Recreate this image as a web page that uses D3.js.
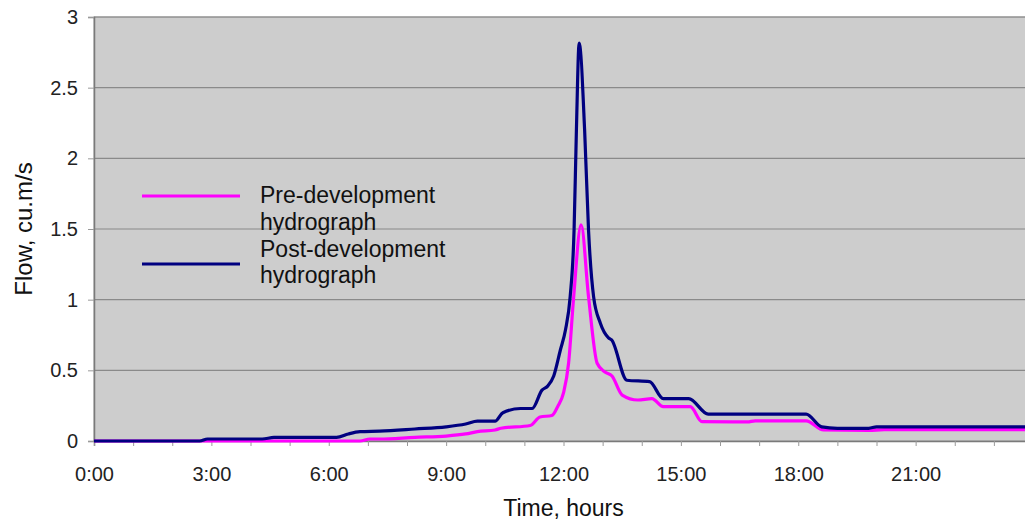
<!DOCTYPE html>
<html>
<head>
<meta charset="utf-8">
<script src="https://cdn.jsdelivr.net/npm/d3@7"></script>
<style>
  html, body { margin: 0; padding: 0; background: #fff; overflow: hidden; }
  svg { display: block; font-family: "Liberation Sans", Arial, sans-serif; }
</style>
</head>
<body>
<svg id="chart" width="1025" height="524"></svg>
<script>
// Pre-development hydrograph (hours, cu.m/s)
const preHours = [0, 6.8, 7.05, 7.3, 8.2, 9.0, 9.5, 9.8, 10.25, 10.4, 11.15, 11.4, 11.7, 11.85,
  12.0, 12.13, 12.26, 12.45, 12.64, 12.86, 13.05, 13.24, 13.5, 13.9, 14.26, 14.55, 15.24,
  15.54, 16.7, 16.9, 18.2, 18.65, 19.8, 20.2, 24];
const preFlow = [0, 0, 0.014, 0.014, 0.026, 0.035, 0.05, 0.066, 0.078, 0.09, 0.11, 0.17, 0.18, 0.243,
  0.34, 0.55, 1.02, 1.53, 1.02, 0.55, 0.49, 0.46, 0.325, 0.29, 0.3, 0.243, 0.243,
  0.137, 0.135, 0.143, 0.143, 0.078, 0.075, 0.08, 0.08];

// Post-development hydrograph
const postHours = [0, 2.7, 2.9, 4.3, 4.6, 6.2, 6.5, 6.8, 7.3, 8.2, 9.0, 9.5, 9.8, 10.25, 10.45,
  10.9, 11.2, 11.45, 11.6, 11.75, 11.92, 12.05, 12.17, 12.27, 12.33, 12.4, 12.54, 12.64,
  12.77, 12.94, 13.15, 13.23, 13.62, 14.2, 14.55, 15.2, 15.7, 18.2, 18.6, 19.0, 19.8, 20.0, 24];
const postFlow = [0, 0, 0.014, 0.014, 0.025, 0.025, 0.05, 0.066, 0.07, 0.085, 0.1, 0.12, 0.14, 0.14, 0.2,
  0.23, 0.23, 0.36, 0.39, 0.46, 0.644, 0.785, 1.02, 1.49, 2.2, 2.815, 2.2, 1.49,
  1.02, 0.835, 0.73, 0.715, 0.43, 0.42, 0.3, 0.3, 0.19, 0.19, 0.1, 0.09, 0.09, 0.1, 0.1];

const yTicks = [0, 0.5, 1, 1.5, 2, 2.5, 3];
const xTickHours = d3.range(0, 24);
const xTickLabels = ["0:00", "3:00", "6:00", "9:00", "12:00", "15:00", "18:00", "21:00"];

const seriesNames = ["Pre-development hydrograph", "Post-development hydrograph"];
const seriesColors = ["#ff00ff", "#000080"];

const svg = d3.select("#chart");
const plotLeft = 94, plotTop = 17, plotRight = 1033, plotBottom = 441;

const x = d3.scaleLinear().domain([0, 24]).range([plotLeft, plotRight]);
const y = d3.scaleLinear().domain([0, 3]).range([plotBottom, plotTop]);

// plot area
svg.append("rect")
  .attr("x", plotLeft).attr("y", plotTop)
  .attr("width", plotRight - plotLeft).attr("height", plotBottom - plotTop)
  .attr("fill", "#cdcdcd")
  .attr("stroke", "#9a9a9a");

// gridlines
svg.append("g")
  .selectAll("line")
  .data(yTicks.slice(1))
  .join("line")
  .attr("x1", plotLeft).attr("x2", plotRight)
  .attr("y1", d => y(d)).attr("y2", d => y(d))
  .attr("stroke", "#8a8a8a")
  .attr("stroke-width", 1.2);

// y axis
const yAxis = svg.append("g")
  .attr("transform", `translate(${plotLeft},0)`)
  .call(d3.axisLeft(y).tickValues(yTicks).tickSize(6).tickPadding(10)
    .tickFormat(d => String(d)));
yAxis.select(".domain").attr("stroke", "#7a7a7a").attr("stroke-width", 1.5);
yAxis.selectAll(".tick line").attr("stroke", "#9a9a9a");
yAxis.selectAll("text").attr("font-size", 20).attr("fill", "#222")
  .attr("font-family", "Liberation Sans, Arial, sans-serif");

// x axis
const xAxis = svg.append("g")
  .attr("transform", `translate(0,${plotBottom})`)
  .call(d3.axisBottom(x).tickValues(xTickHours).tickSize(5).tickPadding(21)
    .tickFormat(d => (d % 3 === 0 ? xTickLabels[d / 3] : "")));
xAxis.select(".domain").attr("stroke", "#7a7a7a").attr("stroke-width", 1.5);
xAxis.selectAll(".tick line").attr("stroke", "#9a9a9a");
xAxis.selectAll("text").attr("font-size", 20).attr("fill", "#222")
  .attr("font-family", "Liberation Sans, Arial, sans-serif");

// axis titles
svg.append("text")
  .attr("x", (plotLeft + plotRight) / 2).attr("y", 516)
  .attr("text-anchor", "middle")
  .attr("font-size", 23).attr("fill", "#111")
  .text("Time, hours");

svg.append("text")
  .attr("transform", `translate(32,${(plotTop + plotBottom) / 2}) rotate(-90)`)
  .attr("text-anchor", "middle")
  .attr("font-size", 24).attr("fill", "#111")
  .text("Flow, cu.m/s");

// lines
const line = d3.line()
  .x(d => x(d[0]))
  .y(d => y(d[1]))
  .curve(d3.curveMonotoneX);

const series = [
  d3.zip(preHours, preFlow),
  d3.zip(postHours, postFlow),
];

svg.append("g")
  .selectAll("path")
  .data(series)
  .join("path")
  .attr("d", line)
  .attr("fill", "none")
  .attr("stroke", (d, i) => seriesColors[i])
  .attr("stroke-width", 3.2)
  .attr("stroke-linejoin", "round");

// legend
const legend = svg.append("g");
const legendY = [196, 264];
const legendBaselines = [[203, 230], [257, 283]];
seriesNames.forEach((name, i) => {
  legend.append("line")
    .attr("x1", 142).attr("x2", 240)
    .attr("y1", legendY[i]).attr("y2", legendY[i])
    .attr("stroke", seriesColors[i])
    .attr("stroke-width", 3);
  const words = [name.replace(" hydrograph", ""), "hydrograph"];
  words.forEach((w, j) => {
    legend.append("text")
      .attr("x", 260).attr("y", legendBaselines[i][j])
      .attr("font-size", 23).attr("fill", "#111")
      .text(w);
  });
});
</script>
</body>
</html>
